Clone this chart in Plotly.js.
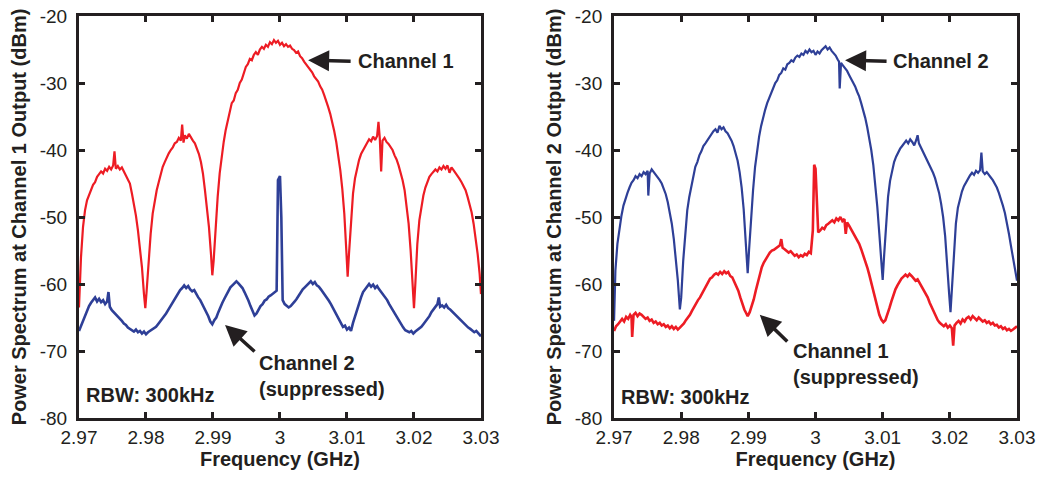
<!DOCTYPE html>
<html>
<head>
<meta charset="utf-8">
<script src="https://cdn.plot.ly/plotly-3.0.1.min.js"></script>
<style>html,body{margin:0;padding:0;background:#fff;}#chart{width:1042px;height:478px;}</style>
</head>
<body>
<div id="chart"></div>
<script>
// ---------- Data (frequency in GHz, power in dBm) ----------
const freqCh1Out_Ch1 = [2.9700,2.9703,2.9706,2.9709,2.9712,2.9715,2.9718,2.9721,2.9724,2.9727,2.9730,2.9733,2.9736,2.9739,2.9742,2.9745,2.9748,2.9751,2.9753,2.9755,2.9758,2.9761,2.9764,2.9767,2.9770,2.9773,2.9776,2.9779,2.9782,2.9785,2.9788,2.9791,2.9794,2.9797,2.9799,2.9801,2.9804,2.9807,2.9810,2.9813,2.9816,2.9819,2.9822,2.9825,2.9828,2.9831,2.9834,2.9837,2.9840,2.9843,2.9846,2.9849,2.9852,2.9854,2.9856,2.9858,2.9861,2.9864,2.9867,2.9870,2.9873,2.9876,2.9879,2.9882,2.9885,2.9888,2.9891,2.9894,2.9897,2.9899,2.9901,2.9904,2.9907,2.9910,2.9913,2.9916,2.9919,2.9922,2.9925,2.9928,2.9931,2.9934,2.9937,2.9940,2.9943,2.9946,2.9949,2.9952,2.9955,2.9958,2.9961,2.9964,2.9967,2.9970,2.9973,2.9976,2.9979,2.9982,2.9985,2.9988,2.9991,2.9994,2.9997,3.0000,3.0003,3.0006,3.0009,3.0012,3.0015,3.0018,3.0021,3.0024,3.0027,3.0030,3.0033,3.0036,3.0039,3.0042,3.0045,3.0048,3.0051,3.0054,3.0057,3.0060,3.0063,3.0066,3.0069,3.0072,3.0075,3.0078,3.0081,3.0084,3.0087,3.0090,3.0093,3.0096,3.0099,3.0101,3.0103,3.0106,3.0109,3.0112,3.0115,3.0118,3.0121,3.0124,3.0127,3.0130,3.0133,3.0136,3.0139,3.0142,3.0145,3.0147,3.0149,3.0151,3.0153,3.0156,3.0159,3.0162,3.0165,3.0168,3.0171,3.0174,3.0177,3.0180,3.0183,3.0186,3.0189,3.0192,3.0195,3.0198,3.0200,3.0202,3.0205,3.0208,3.0211,3.0214,3.0217,3.0220,3.0223,3.0226,3.0229,3.0232,3.0235,3.0238,3.0241,3.0244,3.0247,3.0250,3.0253,3.0256,3.0259,3.0262,3.0265,3.0268,3.0271,3.0274,3.0277,3.0280,3.0283,3.0286,3.0289,3.0292,3.0295,3.0298,3.0300];
const powerCh1Out_Ch1 = [-63.5,-56,-51.5,-49,-47.5,-46.8,-46,-45.2,-44.8,-44.0,-43.6,-43.2,-43.5,-42.8,-43.1,-42.5,-42.9,-42.3,-40.2,-42.8,-42.4,-42.9,-42.6,-43.2,-43.6,-44.3,-45.0,-46.5,-48.0,-49.8,-52.0,-54.5,-57.5,-61.5,-63.6,-61.0,-56.5,-52.5,-49.5,-47.5,-46.0,-44.8,-43.5,-42.5,-41.8,-41.0,-40.5,-40.0,-39.6,-39.0,-38.8,-38.2,-38.6,-36.2,-38.9,-37.8,-38.3,-37.6,-38.2,-38.6,-39.0,-39.8,-40.6,-41.8,-43.5,-46.0,-48.5,-51.5,-55.5,-58.7,-56.5,-51.5,-47.0,-43.5,-41.0,-38.8,-37.0,-35.5,-34.2,-33.0,-32.6,-31.5,-31.0,-30.0,-29.5,-28.5,-27.6,-27.2,-26.4,-26.6,-25.8,-25.4,-25.8,-25.0,-24.6,-24.9,-24.3,-24.6,-23.9,-24.2,-23.6,-24.0,-23.7,-24.3,-24.0,-24.5,-24.2,-24.6,-24.4,-24.9,-25.1,-25.5,-25.3,-26.0,-26.3,-26.8,-27.2,-27.5,-28.0,-28.4,-29.0,-29.4,-29.8,-30.5,-31.0,-31.8,-32.6,-33.6,-34.6,-35.8,-37.2,-38.8,-40.6,-43.0,-45.8,-49.5,-55.0,-58.9,-55.5,-50.0,-46.5,-44.2,-42.6,-41.5,-40.6,-40.0,-39.4,-39.0,-38.4,-38.7,-38.0,-38.5,-37.9,-35.8,-38.3,-43.2,-38.6,-38.2,-38.8,-39.1,-39.6,-40.0,-40.8,-41.4,-42.3,-43.3,-44.5,-46.0,-48.3,-51.0,-55.0,-60.5,-63.6,-60.0,-54.0,-50.5,-48.3,-46.8,-45.6,-44.8,-44.0,-43.6,-43.2,-42.9,-43.2,-42.6,-42.9,-42.4,-42.8,-42.3,-43.4,-42.6,-43.0,-43.4,-43.8,-44.3,-44.8,-45.4,-46.0,-47.0,-48.0,-49.3,-51.0,-53.0,-55.5,-58.5,-61.5];

const freqCh1Out_Ch2 = [2.9700,2.9703,2.9706,2.9709,2.9712,2.9715,2.9718,2.9721,2.9724,2.9727,2.9730,2.9733,2.9736,2.9739,2.9742,2.9744,2.9746,2.9749,2.9752,2.9755,2.9758,2.9761,2.9764,2.9767,2.9770,2.9773,2.9776,2.9779,2.9782,2.9785,2.9788,2.9791,2.9794,2.9797,2.9800,2.9803,2.9806,2.9809,2.9812,2.9815,2.9818,2.9821,2.9824,2.9827,2.9830,2.9833,2.9836,2.9839,2.9842,2.9845,2.9848,2.9851,2.9854,2.9857,2.9860,2.9863,2.9866,2.9869,2.9872,2.9875,2.9878,2.9881,2.9884,2.9887,2.9890,2.9893,2.9896,2.9899,2.9902,2.9905,2.9908,2.9911,2.9914,2.9917,2.9920,2.9923,2.9926,2.9929,2.9932,2.9935,2.9938,2.9941,2.9944,2.9947,2.9950,2.9953,2.9956,2.9959,2.9962,2.9965,2.9968,2.9971,2.9974,2.9977,2.9980,2.9983,2.9986,2.9989,2.9992,2.9995,2.9997,3.0000,3.0002,3.0004,3.0007,3.0010,3.0013,3.0016,3.0019,3.0022,3.0025,3.0028,3.0031,3.0034,3.0037,3.0040,3.0043,3.0046,3.0049,3.0052,3.0055,3.0058,3.0061,3.0064,3.0067,3.0070,3.0073,3.0076,3.0079,3.0082,3.0085,3.0088,3.0091,3.0094,3.0097,3.0100,3.0103,3.0106,3.0109,3.0112,3.0115,3.0118,3.0121,3.0124,3.0127,3.0130,3.0133,3.0136,3.0139,3.0142,3.0145,3.0148,3.0151,3.0154,3.0157,3.0160,3.0163,3.0166,3.0169,3.0172,3.0175,3.0178,3.0181,3.0184,3.0187,3.0190,3.0193,3.0196,3.0199,3.0202,3.0205,3.0208,3.0211,3.0214,3.0217,3.0220,3.0223,3.0226,3.0229,3.0232,3.0235,3.0237,3.0239,3.0242,3.0245,3.0248,3.0251,3.0254,3.0257,3.0260,3.0263,3.0266,3.0269,3.0272,3.0275,3.0278,3.0281,3.0284,3.0287,3.0290,3.0293,3.0296,3.0300];
const powerCh1Out_Ch2 = [-67.0,-66.2,-65.5,-64.6,-64.0,-63.3,-62.8,-62.3,-62.0,-62.6,-62.2,-62.7,-62.4,-63.0,-62.6,-61.2,-63.4,-63.9,-64.2,-64.6,-64.9,-65.2,-65.5,-65.9,-66.1,-66.5,-66.7,-66.9,-67.1,-66.8,-67.2,-67.0,-67.4,-67.1,-67.5,-67.2,-67.0,-66.8,-66.5,-66.4,-66.0,-65.6,-65.3,-64.9,-64.4,-63.9,-63.4,-62.8,-62.5,-61.8,-61.5,-60.9,-60.6,-60.2,-60.6,-60.3,-60.8,-61.1,-60.9,-61.5,-62.0,-62.4,-63.0,-63.5,-64.2,-64.8,-65.6,-66.0,-65.4,-65.0,-64.2,-63.4,-62.8,-62.2,-61.6,-61.0,-60.5,-60.2,-59.9,-59.6,-59.9,-60.2,-60.6,-61.2,-61.8,-62.5,-63.3,-64.0,-64.7,-64.4,-63.8,-63.3,-63.0,-62.5,-62.3,-61.9,-61.7,-61.5,-61.2,-61.0,-44.5,-43.9,-50.0,-62.4,-63.0,-63.2,-63.5,-63.3,-63.0,-62.6,-62.2,-61.7,-61.2,-60.8,-60.5,-60.2,-60.0,-59.6,-60.0,-59.7,-60.2,-60.4,-60.8,-61.2,-61.6,-62.0,-62.5,-63.0,-63.6,-64.2,-64.8,-65.3,-65.9,-66.4,-66.2,-66.8,-66.5,-67.0,-65.8,-64.8,-63.8,-62.8,-62.0,-61.2,-60.8,-60.3,-60.0,-60.4,-60.1,-60.6,-60.3,-60.8,-61.2,-61.6,-62.0,-62.4,-63.0,-63.5,-64.0,-64.6,-65.2,-65.7,-66.2,-66.5,-66.9,-67.0,-67.2,-67.0,-67.4,-67.1,-66.9,-66.6,-66.4,-66.0,-65.6,-65.2,-64.8,-64.2,-63.8,-63.4,-63.0,-62.0,-63.4,-63.2,-63.5,-63.1,-63.6,-63.8,-64.1,-64.4,-64.7,-65.0,-65.4,-65.6,-65.9,-66.2,-66.5,-66.7,-66.9,-67.2,-67.0,-67.4,-67.8];

const freqCh2Out_Ch2 = [2.9700,2.9702,2.9705,2.9708,2.9711,2.9714,2.9717,2.9720,2.9723,2.9726,2.9729,2.9732,2.9735,2.9738,2.9741,2.9744,2.9747,2.9750,2.9751,2.9753,2.9756,2.9759,2.9762,2.9765,2.9768,2.9771,2.9774,2.9777,2.9780,2.9783,2.9786,2.9789,2.9792,2.9795,2.9798,2.9800,2.9803,2.9806,2.9809,2.9812,2.9815,2.9818,2.9821,2.9824,2.9827,2.9830,2.9833,2.9836,2.9839,2.9842,2.9845,2.9848,2.9851,2.9854,2.9857,2.9860,2.9863,2.9866,2.9869,2.9872,2.9875,2.9878,2.9881,2.9884,2.9887,2.9890,2.9893,2.9896,2.9899,2.9901,2.9904,2.9907,2.9910,2.9913,2.9916,2.9919,2.9922,2.9925,2.9928,2.9931,2.9934,2.9937,2.9940,2.9943,2.9946,2.9949,2.9952,2.9955,2.9958,2.9961,2.9964,2.9967,2.9970,2.9973,2.9976,2.9979,2.9982,2.9985,2.9988,2.9991,2.9994,2.9997,3.0000,3.0003,3.0006,3.0009,3.0012,3.0015,3.0018,3.0021,3.0024,3.0027,3.0030,3.0033,3.0035,3.0036,3.0038,3.0041,3.0044,3.0047,3.0050,3.0053,3.0056,3.0059,3.0062,3.0065,3.0068,3.0071,3.0074,3.0077,3.0080,3.0083,3.0086,3.0089,3.0092,3.0095,3.0098,3.0100,3.0102,3.0105,3.0108,3.0111,3.0114,3.0117,3.0120,3.0123,3.0126,3.0129,3.0132,3.0135,3.0138,3.0141,3.0144,3.0147,3.0150,3.0152,3.0154,3.0157,3.0160,3.0163,3.0166,3.0169,3.0172,3.0175,3.0178,3.0181,3.0184,3.0187,3.0190,3.0193,3.0196,3.0199,3.0201,3.0203,3.0206,3.0209,3.0212,3.0215,3.0218,3.0221,3.0224,3.0227,3.0230,3.0233,3.0236,3.0239,3.0242,3.0245,3.0247,3.0249,3.0252,3.0255,3.0258,3.0261,3.0264,3.0267,3.0270,3.0273,3.0276,3.0279,3.0282,3.0285,3.0288,3.0291,3.0294,3.0297,3.0300];
const powerCh2Out_Ch2 = [-65.5,-58,-54.0,-51.5,-49.8,-48.3,-47.2,-46.4,-45.6,-44.9,-44.5,-43.9,-44.2,-43.6,-43.9,-43.3,-43.6,-43.1,-46.8,-43.5,-42.9,-43.3,-43.6,-44.0,-44.5,-45.0,-45.8,-46.6,-47.8,-49.2,-51.0,-53.3,-56.0,-59.5,-63.8,-62.0,-56.5,-52.0,-49.0,-47.0,-45.3,-43.8,-42.5,-41.8,-40.8,-40.2,-39.4,-39.0,-38.5,-38.0,-37.7,-37.2,-36.9,-37.4,-36.4,-36.9,-36.6,-37.2,-37.5,-38.0,-38.6,-39.4,-40.4,-41.6,-43.3,-45.6,-48.8,-53.0,-58.4,-55.0,-50.0,-46.0,-42.5,-40.0,-38.0,-36.4,-35.0,-34.0,-33.0,-32.3,-31.4,-30.8,-30.0,-29.6,-28.8,-28.5,-27.8,-28.0,-27.2,-27.0,-26.6,-26.8,-26.2,-25.9,-26.1,-25.6,-25.8,-25.2,-25.5,-25.0,-25.4,-25.2,-25.8,-25.3,-25.6,-25.1,-24.8,-24.5,-25.0,-24.7,-25.2,-25.6,-25.9,-26.5,-26.8,-30.8,-27.0,-27.4,-27.8,-28.2,-28.8,-29.3,-29.8,-30.5,-31.3,-32.0,-33.0,-34.0,-35.2,-36.6,-38.2,-40.0,-42.2,-45.0,-48.5,-52.5,-57.0,-59.4,-56.0,-50.5,-47.0,-44.6,-43.0,-41.8,-41.0,-40.3,-39.8,-39.4,-39.0,-38.6,-39.0,-38.4,-38.8,-39.3,-38.5,-37.8,-39.0,-39.6,-40.3,-41.0,-41.6,-42.1,-42.8,-43.4,-44.2,-45.2,-46.4,-48.0,-50.0,-52.8,-56.5,-61.5,-64.2,-61.0,-55.5,-51.0,-48.6,-47.3,-46.2,-45.4,-44.8,-44.2,-43.8,-43.4,-43.7,-43.1,-43.4,-43.0,-40.4,-43.2,-43.6,-43.3,-43.8,-44.1,-44.5,-45.0,-45.6,-46.4,-47.2,-48.3,-49.4,-50.8,-52.5,-54.3,-56.0,-57.8,-59.5];

const freqCh2Out_Ch1 = [2.9700,2.9703,2.9706,2.9709,2.9712,2.9715,2.9718,2.9721,2.9724,2.9726,2.9727,2.9729,2.9732,2.9735,2.9738,2.9741,2.9744,2.9747,2.9750,2.9753,2.9756,2.9759,2.9762,2.9765,2.9768,2.9771,2.9774,2.9777,2.9780,2.9783,2.9786,2.9789,2.9792,2.9795,2.9798,2.9801,2.9804,2.9807,2.9810,2.9813,2.9816,2.9819,2.9822,2.9825,2.9828,2.9831,2.9834,2.9837,2.9840,2.9843,2.9846,2.9849,2.9852,2.9855,2.9858,2.9861,2.9864,2.9867,2.9870,2.9873,2.9876,2.9879,2.9882,2.9885,2.9888,2.9891,2.9894,2.9897,2.9899,2.9902,2.9905,2.9908,2.9911,2.9914,2.9917,2.9920,2.9923,2.9926,2.9929,2.9932,2.9935,2.9938,2.9941,2.9944,2.9947,2.9949,2.9951,2.9954,2.9957,2.9960,2.9963,2.9966,2.9969,2.9972,2.9975,2.9978,2.9981,2.9984,2.9987,2.9990,2.9993,2.9996,2.9998,3.0000,3.0002,3.0004,3.0007,3.0010,3.0013,3.0016,3.0019,3.0022,3.0025,3.0028,3.0031,3.0034,3.0037,3.0040,3.0043,3.0045,3.0047,3.0050,3.0053,3.0056,3.0059,3.0062,3.0065,3.0068,3.0071,3.0074,3.0077,3.0080,3.0083,3.0086,3.0089,3.0092,3.0095,3.0098,3.0101,3.0104,3.0107,3.0110,3.0113,3.0116,3.0119,3.0122,3.0125,3.0128,3.0131,3.0134,3.0137,3.0140,3.0143,3.0146,3.0149,3.0152,3.0155,3.0158,3.0161,3.0164,3.0167,3.0170,3.0173,3.0176,3.0179,3.0182,3.0185,3.0188,3.0191,3.0194,3.0197,3.0200,3.0203,3.0205,3.0207,3.0210,3.0213,3.0216,3.0219,3.0222,3.0225,3.0228,3.0231,3.0234,3.0237,3.0240,3.0243,3.0246,3.0249,3.0252,3.0255,3.0258,3.0261,3.0264,3.0267,3.0270,3.0273,3.0276,3.0279,3.0282,3.0285,3.0288,3.0291,3.0294,3.0297,3.0300];
const powerCh2Out_Ch1 = [-67.0,-66.3,-66.0,-65.6,-65.2,-65.6,-64.9,-65.2,-64.6,-64.9,-67.9,-64.6,-64.3,-64.8,-64.4,-64.6,-64.9,-65.2,-65.0,-65.5,-65.3,-65.8,-65.6,-66.0,-65.8,-66.2,-66.0,-66.4,-66.2,-66.6,-66.3,-66.7,-66.4,-66.8,-66.5,-66.2,-65.9,-65.4,-65.0,-64.6,-64.0,-63.4,-63.0,-62.4,-62.0,-61.4,-60.8,-60.2,-59.8,-59.2,-59.0,-58.6,-58.4,-58.6,-58.2,-58.5,-58.1,-58.4,-58.2,-58.8,-59.0,-59.6,-60.2,-61.0,-62.0,-63.0,-63.8,-64.4,-64.8,-64.2,-63.3,-62.3,-61.0,-59.8,-58.5,-57.5,-56.8,-56.2,-55.8,-55.3,-55.0,-54.9,-54.7,-54.5,-54.2,-53.3,-54.6,-54.8,-55.0,-55.3,-55.1,-55.5,-55.8,-55.6,-56.0,-55.7,-55.9,-55.5,-55.7,-55.2,-55.4,-52.0,-42.2,-42.8,-49.0,-52.3,-52.0,-51.6,-51.8,-51.2,-51.0,-50.7,-50.5,-50.8,-50.2,-50.5,-50.0,-50.6,-50.3,-52.5,-50.8,-51.3,-51.8,-52.3,-52.9,-53.4,-54.0,-54.8,-55.6,-56.5,-57.5,-58.6,-59.8,-61.0,-62.3,-63.5,-64.6,-65.3,-65.7,-65.4,-64.6,-63.6,-62.6,-61.6,-60.8,-60.2,-59.6,-59.2,-58.9,-58.6,-58.9,-58.5,-58.8,-59.2,-59.5,-59.3,-59.8,-60.3,-60.8,-61.4,-62.0,-62.8,-63.5,-64.2,-64.9,-65.4,-65.8,-66.1,-66.3,-66.0,-66.5,-66.2,-66.6,-69.2,-66.2,-65.8,-65.5,-65.9,-65.3,-65.6,-65.1,-64.9,-65.3,-64.8,-65.1,-65.4,-65.0,-65.3,-65.6,-65.4,-65.8,-65.6,-66.0,-65.8,-66.2,-66.1,-66.5,-66.3,-66.7,-66.5,-66.9,-66.7,-67.0,-66.8,-66.6,-66.3];

const xTickVals = [2.97, 2.98, 2.99, 3.00, 3.01, 3.02, 3.03];
const xTickText = ['2.97', '2.98', '2.99', '3', '3.01', '3.02', '3.03'];
const yTickVals = [-80, -70, -60, -50, -40, -30, -20];
const yTickText = ['-80', '-70', '-60', '-50', '-40', '-30', '-20'];

// ---------- Styling ----------
const RED = '#ed1c24';
const BLUE = '#2e3f97';
const INK = '#231f20';
const FONT = 'Liberation Sans, Arial, Helvetica, sans-serif';

const traces = [
  {x: freqCh1Out_Ch1, y: powerCh1Out_Ch1, xaxis: 'x', yaxis: 'y', type: 'scatter', mode: 'lines', line: {color: RED, width: 2.2}, name: 'Channel 1'},
  {x: freqCh1Out_Ch2, y: powerCh1Out_Ch2, xaxis: 'x', yaxis: 'y', type: 'scatter', mode: 'lines', line: {color: BLUE, width: 2.6}, name: 'Channel 2 (suppressed)'},
  {x: freqCh2Out_Ch2, y: powerCh2Out_Ch2, xaxis: 'x2', yaxis: 'y2', type: 'scatter', mode: 'lines', line: {color: BLUE, width: 2.2}, name: 'Channel 2'},
  {x: freqCh2Out_Ch1, y: powerCh2Out_Ch1, xaxis: 'x2', yaxis: 'y2', type: 'scatter', mode: 'lines', line: {color: RED, width: 2.6}, name: 'Channel 1 (suppressed)'}
];

function xAxis(domain, anchor) {
  return {
    domain: domain, anchor: anchor, range: [2.97, 3.03],
    tickmode: 'array', tickvals: xTickVals, ticktext: xTickText,
    showline: true, linewidth: 3, linecolor: INK, mirror: 'ticks',
    ticks: 'inside', ticklen: 6, tickwidth: 3, tickcolor: INK,
    showgrid: false, zeroline: false,
    tickfont: {family: FONT, size: 19, color: INK},
    title: {text: 'Frequency (GHz)', font: {family: FONT, size: 20, color: INK, weight: 'bold'}, standoff: 6}
  };
}
function yAxis(domain, anchor, label) {
  return {
    domain: domain, anchor: anchor, range: [-80, -20],
    tickmode: 'array', tickvals: yTickVals, ticktext: yTickText,
    showline: true, linewidth: 3, linecolor: INK, mirror: 'ticks',
    ticks: 'inside', ticklen: 6, tickwidth: 3, tickcolor: INK,
    showgrid: false, zeroline: false, ticklabelstandoff: 5,
    tickfont: {family: FONT, size: 19, color: INK},
    title: {text: label, font: {family: FONT, size: 20, color: INK, weight: 'bold'}, standoff: 8}
  };
}

const annFont = {family: FONT, size: 20, color: INK, weight: 'bold'};
function arrow(xref, yref, x, y, ax, ay) {
  return {xref: xref, yref: yref, x: x, y: y, ax: ax, ay: ay, axref: 'pixel', ayref: 'pixel',
          text: '', showarrow: true, arrowhead: 2, arrowsize: 1.2, arrowwidth: 3.5, arrowcolor: INK, standoff: 0};
}
function label(xref, yref, x, y, text) {
  return {xref: xref, yref: yref, x: x, y: y, text: text, showarrow: false,
          xanchor: 'left', yanchor: 'middle', align: 'left', font: annFont};
}

const layout = {
  width: 1042, height: 478,
  margin: {l: 0, r: 0, t: 0, b: 0},
  paper_bgcolor: '#ffffff', plot_bgcolor: '#ffffff',
  showlegend: false,
  xaxis: xAxis([0.0758, 0.4616], 'y'),
  yaxis: yAxis([0.1255, 0.9665], 'x', 'Power Spectrum at Channel 1 Output (dBm)'),
  xaxis2: xAxis([0.5893, 0.9760], 'y2'),
  yaxis2: yAxis([0.1255, 0.9665], 'x2', 'Power Spectrum at Channel 2 Output (dBm)'),
  annotations: [
    arrow('x', 'y', 3.0042, -26.6, 44, 1),
    label('x', 'y', 3.0113, -26.7, 'Channel 1'),
    arrow('x', 'y', 2.9918, -66.1, 31, 28),
    label('x', 'y', 2.9966, -73.7, 'Channel 2<br>(suppressed)'),
    label('x', 'y', 2.9708, -76.6, 'RBW: 300kHz'),
    arrow('x2', 'y2', 3.0044, -26.6, 43, 1),
    label('x2', 'y2', 3.0113, -26.7, 'Channel 2'),
    arrow('x2', 'y2', 2.9917, -64.6, 29, 28),
    label('x2', 'y2', 2.9964, -71.9, 'Channel 1<br>(suppressed)'),
    label('x2', 'y2', 2.9708, -76.9, 'RBW: 300kHz')
  ]
};

Plotly.newPlot('chart', traces, layout, {staticPlot: true, displayModeBar: false});
</script>
</body>
</html>
